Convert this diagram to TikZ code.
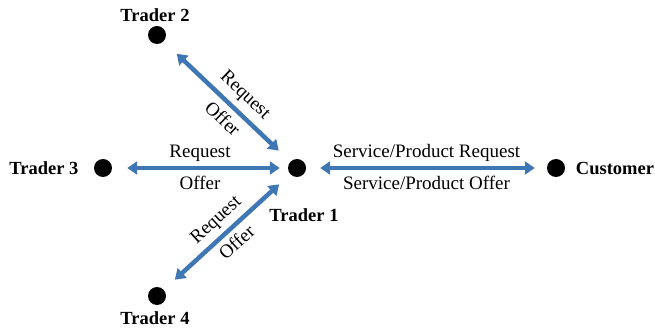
\documentclass[tikz,border=0pt]{standalone}
\usepackage{fontspec}
\setmainfont{Liberation Serif}
\usetikzlibrary{arrows.meta}
\definecolor{linkblue}{RGB}{63,119,180}
\tikzset{
  dot/.style={circle, fill=black, inner sep=0pt, minimum size=18pt},
  tag/.style={font=\fontsize{18.5}{21}\selectfont\bfseries, inner sep=0pt},
  link/.style={draw=linkblue, line width=4.5pt,
    {Triangle[width=13pt,length=10pt]}-{Triangle[width=13pt,length=10pt]}},
  lbl/.style={font=\fontsize{19}{22}\selectfont, inner sep=2pt}
}
\begin{document}
\begin{tikzpicture}[x=1pt,y=1pt]
\useasboundingbox (0,0) rectangle (655,329);
% traders and customer
\node[dot] (t1) at (297,161) {};
\node[dot] (t2) at (157,294) {};
\node[dot] (t3) at (103,161) {};
\node[dot] (t4) at (157,33) {};
\node[dot] (cu) at (556,161) {};
% names
\node[tag] (n1) at (304,114) {Trader 1};
\node[tag] (n2) at (155,314) {Trader 2};
\node[tag] (n3) at (44,161) {Trader 3};
\node[tag] (n4) at (155,11) {Trader 4};
\node[tag] (nc) at (615,161) {Customer};
% request / offer links
\draw[link, shorten <=18pt, shorten >=16pt] (t2) -- (t1)
  node[lbl, pos=0.55, sloped, above=4pt] {Request}
  node[lbl, pos=0.55, sloped, below=4pt] {Offer};
\draw[link, shorten <=15pt, shorten >=8pt] (t3) -- (t1)
  node[lbl, midway, above=2pt] {Request}
  node[lbl, midway, below=4pt] {Offer};
\draw[link, shorten <=15pt, shorten >=15pt] (t4) -- (t1)
  node[lbl, midway, sloped, above=3pt] {Request}
  node[lbl, midway, sloped, below=3pt] {Offer};
\draw[link, shorten <=14pt, shorten >=12pt] (t1) -- (cu)
  node[lbl, midway, above=2pt] {Service/Product Request}
  node[lbl, midway, below=4pt] {Service/Product Offer};
\end{tikzpicture}
\end{document}
